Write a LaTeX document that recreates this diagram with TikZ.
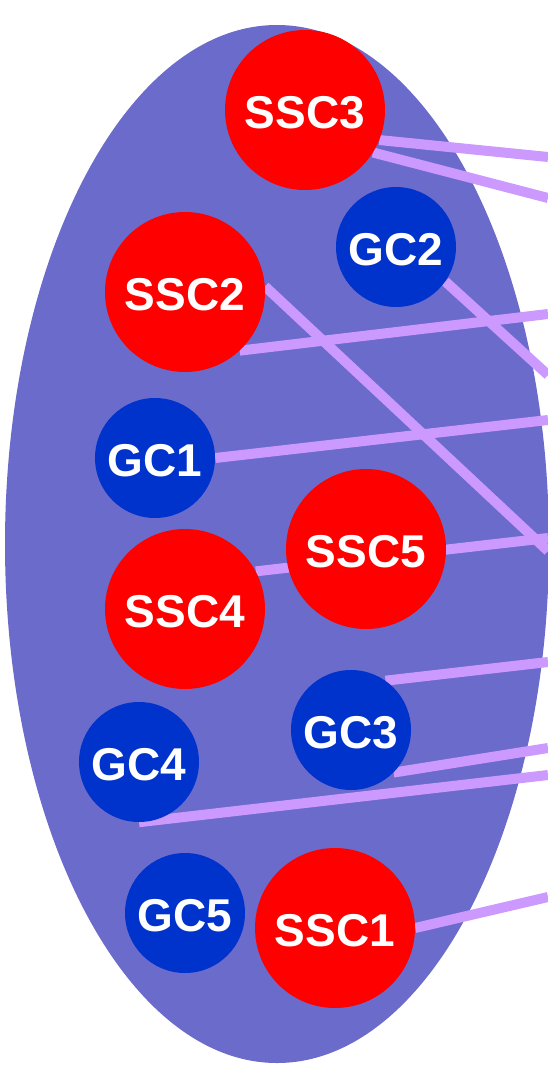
\documentclass[tikz,border=0pt]{standalone}
\usepackage{fontspec}
\setmainfont{Liberation Sans}
\pgfdeclarelayer{back}
\pgfdeclarelayer{mid}
\pgfsetlayers{back,mid,main}
\definecolor{cellred}{HTML}{FF0000}
\definecolor{cellblue}{HTML}{0033CC}
\definecolor{blob}{HTML}{6B6BCC}
\definecolor{link}{HTML}{CC99FF}
\tikzset{
  cellbase/.style={circle,inner sep=0pt,text=white,text height=37pt,text depth=0pt,font=\fontsize{46}{46}\selectfont\bfseries},
  ssc/.style={cellbase,fill=cellred,minimum size=160pt},
  gc/.style={cellbase,fill=cellblue,minimum size=120pt},
  linkline/.style={draw=link,line width=10pt,line cap=butt}
}
\begin{document}
\begin{tikzpicture}[x=1pt,y=-1pt]
\useasboundingbox (0,0) rectangle (548,1067);
\begin{pgfonlayer}{back}
\clip (0,0) rectangle (548,1067);
\fill[blob] (277,544) ellipse [x radius=272, y radius=519];
\end{pgfonlayer}
\node[ssc] (ssc3) at (305,110) {SSC3};
\node[gc] (gc2) at (396,247) {GC2};
\node[ssc] (ssc2) at (185,292) {SSC2};
\node[gc] (gc1) at (155,458) {GC1};
\node[ssc] (ssc5) at (366,549) {SSC5};
\node[ssc] (ssc4) at (185,609) {SSC4};
\node[gc] (gc3) at (351,730) {GC3};
\node[gc] (gc4) at (139,762) {GC4};
\node[gc] (gc5) at (185,913) {GC5};
\node[ssc] (ssc1) at (335,928) {SSC1};
\coordinate (t1) at (548,157);
\coordinate (t2) at (548,198);
\coordinate (t3) at (548,375);
\coordinate (t4) at (548,314);
\coordinate (t5) at (548,551);
\coordinate (t6) at (548,420);
\coordinate (t7) at (548,538);
\coordinate (t8) at (548,662);
\coordinate (t9) at (548,748);
\coordinate (t10) at (548,775);
\coordinate (t11) at (548,897);
\begin{pgfonlayer}{mid}
\draw[linkline] (ssc3.-22) -- (t1);
\draw[linkline] (ssc3.-32) -- (t2);
\draw[linkline] (gc2.-35) -- (t3);
\draw[linkline] (ssc2.-47) -- (t4);
\draw[linkline] (ssc2.4) -- (t5);
\draw[linkline] (gc1.0) -- (t6);
\draw[linkline] (ssc4.28) -- (t7);
\draw[linkline] (gc3.55) -- (t8);
\draw[linkline] (gc3.-45) -- (t9);
\draw[linkline] (gc4.-90) -- (t10);
\draw[linkline] (ssc1.0) -- (t11);
\end{pgfonlayer}
\end{tikzpicture}
\end{document}
